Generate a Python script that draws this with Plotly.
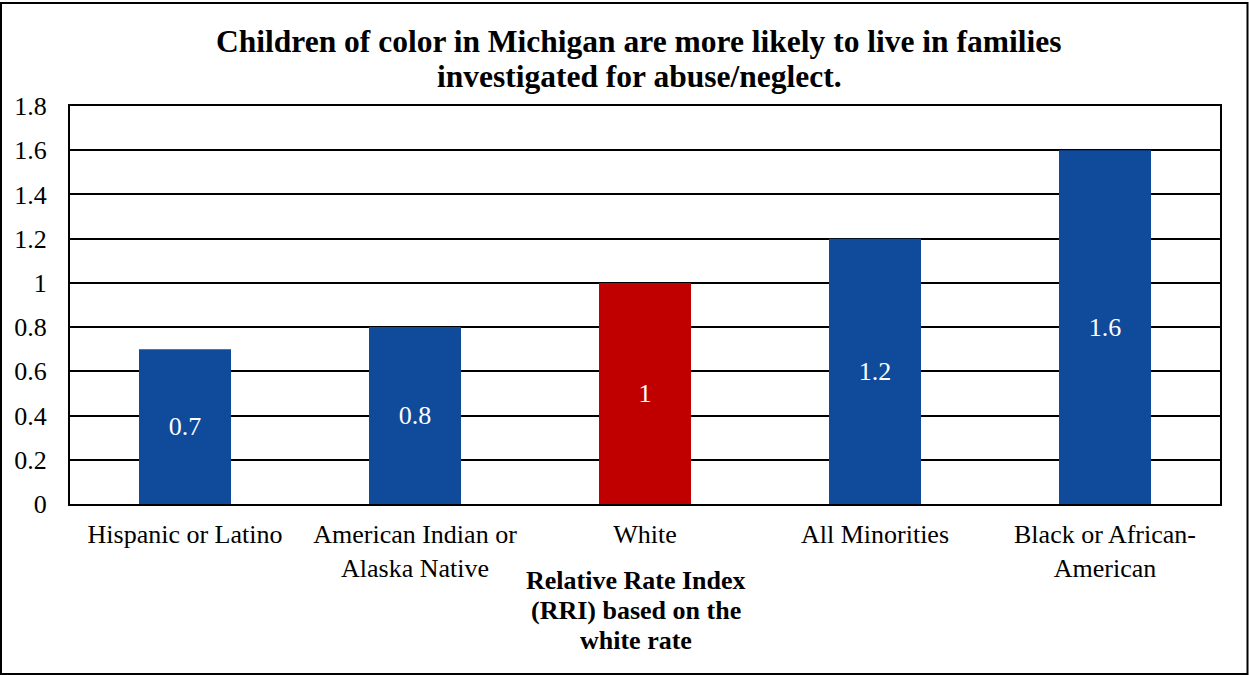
import plotly.graph_objects as go

# Relative Rate Index by race/ethnicity (white rate = 1)
categories = [
    "Hispanic or Latino",
    "American Indian or<br>Alaska Native",
    "White",
    "All Minorities",
    "Black or African-<br>American",
]
rri_values = [0.7, 0.8, 1.0, 1.2, 1.6]
bar_colors = ["#0F4A9B", "#0F4A9B", "#C00000", "#0F4A9B", "#0F4A9B"]
y_ticks = [0, 0.2, 0.4, 0.6, 0.8, 1.0, 1.2, 1.4, 1.6, 1.8]

title_lines = [
    "Children of color in Michigan are more likely to live in families",
    "investigated for abuse/neglect.",
]
axis_title_lines = ["Relative Rate Index", "(RRI) based on the", "white rate"]

W, H = 1249, 675
ML, MR, MT, MB = 70, 29, 106, 171
PW = W - ML - MR
PH = H - MT - MB

FONT = "Liberation Serif"


def px_x(px):
    """Horizontal pixel position -> paper coordinate."""
    return (px - ML) / PW


def px_y(py):
    """Vertical pixel position (from top) -> paper coordinate."""
    return (H - MB - py) / PH


fig = go.Figure(
    go.Bar(
        x=categories,
        y=rri_values,
        marker=dict(color=bar_colors, line=dict(width=0)),
        text=[f"{v:g}" for v in rri_values],
        textposition="inside",
        insidetextanchor="middle",
        textfont=dict(family=FONT, size=26, color="white"),
        textangle=0,
        hoverinfo="skip",
    )
)

fig.update_layout(
    width=W,
    height=H,
    margin=dict(l=ML, r=MR, t=MT, b=MB),
    paper_bgcolor="white",
    plot_bgcolor="white",
    bargap=0.6,
    showlegend=False,
    font=dict(family=FONT, size=26, color="black"),
)

fig.update_xaxes(
    showline=True,
    linecolor="black",
    linewidth=2,
    mirror=True,
    ticks="",
    ticklabelstandoff=6,
    tickfont=dict(family=FONT, size=26, color="black"),
    showgrid=False,
)

fig.update_yaxes(
    range=[0, 1.8],
    tickvals=y_ticks,
    ticktext=[f"{v:g}" for v in y_ticks],
    showgrid=True,
    gridcolor="black",
    gridwidth=1.5,
    zeroline=False,
    showline=True,
    linecolor="black",
    linewidth=2,
    mirror=True,
    ticks="",
    ticklabelstandoff=16,
    tickfont=dict(family=FONT, size=26, color="black"),
)

# Chart title, two bold lines centred over the plot
for line, cy in zip(title_lines, [42, 76]):
    fig.add_annotation(
        text=f"<b>{line}</b>",
        x=px_x(639),
        xref="paper",
        y=px_y(cy),
        yref="paper",
        xanchor="center",
        yanchor="middle",
        showarrow=False,
        font=dict(family=FONT, size=31.5, color="black"),
    )

# Axis title under the category labels
for line, cy in zip(axis_title_lines, [580, 610, 640]):
    fig.add_annotation(
        text=f"<b>{line}</b>",
        x=px_x(636),
        xref="paper",
        y=px_y(cy),
        yref="paper",
        xanchor="center",
        yanchor="middle",
        showarrow=False,
        font=dict(family=FONT, size=26, color="black"),
    )

# Frame around the whole chart
fig.add_shape(
    type="rect",
    xref="paper",
    yref="paper",
    x0=px_x(1),
    x1=px_x(W - 1.5),
    y0=px_y(H - 1),
    y1=px_y(3),
    line=dict(color="black", width=2),
    fillcolor="rgba(0,0,0,0)",
    layer="above",
)

fig.write_html("out.html")
